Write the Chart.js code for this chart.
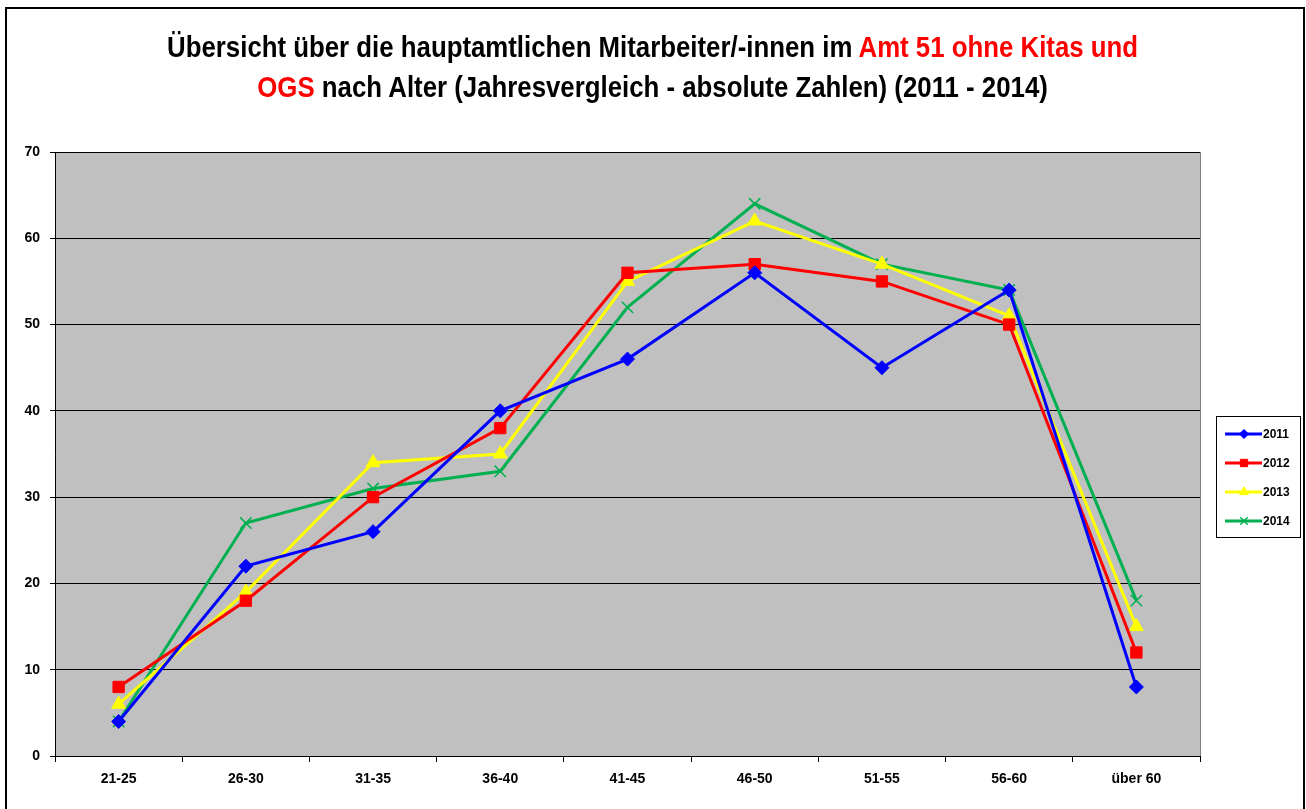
<!DOCTYPE html>
<html>
<head>
<meta charset="utf-8">
<script src="https://cdn.jsdelivr.net/npm/chart.js@4/dist/chart.umd.min.js"></script>
<style>
    body { margin: 0; background: #fff; }
    #wrap { position: relative; width: 1306px; height: 809px; overflow: hidden; }
    #frame { position: absolute; left: 5px; top: 7px; width: 1300px; height: 820px; box-sizing: border-box; border: 2px solid #000; pointer-events: none; }
    #title {
        position: absolute; left: 0; top: 27px; width: 1306px; text-align: center;
        font-family: "Liberation Sans", Arial, sans-serif;
        font-weight: bold; font-size: 30px; line-height: 40px; color: #000;
        transform: scaleX(0.86); transform-origin: 650px 0;
    }
    #title .red { color: #ff0000; }
    canvas { position: absolute; left: 0; top: 0; }
</style>
</head>
<body>
<div id="wrap">
    <canvas id="chart" width="1306" height="809"></canvas>
    <div id="title">Übersicht über die hauptamtlichen Mitarbeiter/-innen im <span class="red">Amt 51 ohne Kitas und</span><br><span class="red">OGS</span> nach Alter (Jahresvergleich - absolute Zahlen) (2011 - 2014)</div>
    <div id="frame"></div>
</div>
<script>
const ageGroups = ['21-25', '26-30', '31-35', '36-40', '41-45', '46-50', '51-55', '56-60', 'über 60'];
const values2011 = [4, 22, 26, 40, 46, 56, 45, 54, 8];
const values2012 = [8, 18, 30, 38, 56, 57, 55, 50, 12];
const values2013 = [6, 19, 34, 35, 55, 62, 57, 51, 15];
const values2014 = [4, 27, 31, 33, 52, 64, 57, 54, 18];

// gray plot area like the Excel chart
const plotBackground = {
    id: 'plotBackground',
    beforeDraw(chart) {
        const { ctx, chartArea: a } = chart;
        ctx.save();
        ctx.fillStyle = '#c0c0c0';
        ctx.fillRect(a.left, a.top, a.right - a.left, a.bottom - a.top);
        ctx.strokeStyle = '#808080';
        ctx.lineWidth = 1;
        ctx.strokeRect(a.left + 0.5, a.top + 0.5, a.right - a.left, a.bottom - a.top);
        ctx.restore();
    }
};

// legend box on the right, line + marker per series
const boxLegend = {
    id: 'boxLegend',
    afterDraw(chart) {
        const ctx = chart.ctx;
        const x = 1216, y = 416, w = 84, h = 121;
        ctx.save();
        ctx.fillStyle = '#fff';
        ctx.fillRect(x, y, w, h);
        ctx.strokeStyle = '#000';
        ctx.lineWidth = 1;
        ctx.strokeRect(x + 0.5, y + 0.5, w, h);
        chart.data.datasets.forEach((ds, i) => {
            const cy = y + 18 + i * 29;
            ctx.strokeStyle = ds.borderColor;
            ctx.lineWidth = 3;
            ctx.beginPath();
            ctx.moveTo(x + 9, cy);
            ctx.lineTo(x + 46, cy);
            ctx.stroke();
            ctx.fillStyle = ds.pointBackgroundColor;
            ctx.strokeStyle = ds.pointBorderColor;
            ctx.lineWidth = ds.pointBorderWidth;
            Chart.helpers.drawPoint(ctx, {
                pointStyle: ds.pointStyle,
                radius: ds.pointRadius * 0.65,
                borderWidth: ds.pointBorderWidth,
                rotation: 0
            }, x + 28, cy);
            ctx.fillStyle = '#000';
            ctx.font = 'bold 12px "Liberation Sans", Arial, sans-serif';
            ctx.textBaseline = 'middle';
            ctx.fillText(ds.label, x + 47, cy + 1);
        });
        ctx.restore();
    }
};

function series(label, data, color, style, radius) {
    return {
        label: label,
        data: data,
        borderColor: color,
        backgroundColor: color,
        pointBackgroundColor: color,
        pointBorderColor: color,
        pointStyle: style,
        pointRadius: radius,
        pointBorderWidth: style === 'crossRot' ? 1.5 : 1,
        borderWidth: 3,
        tension: 0
    };
}

const tickFont = { family: '"Liberation Sans", Arial, sans-serif', weight: 'bold', size: 14 };

new Chart(document.getElementById('chart'), {
    type: 'line',
    data: {
        labels: ageGroups,
        datasets: [
            series('2011', values2011, '#0000ff', 'rectRot', 7),
            series('2012', values2012, '#ff0000', 'rect', 8),
            series('2013', values2013, '#ffff00', 'triangle', 8),
            series('2014', values2014, '#00b050', 'crossRot', 8)
        ]
    },
    options: {
        responsive: false,
        animation: false,
        layout: { padding: { top: 152, right: 106, left: 0, bottom: 13 } },
        plugins: {
            legend: { display: false },
            title: { display: false },
            tooltip: { enabled: false }
        },
        scales: {
            x: {
                offset: true,
                grid: { offset: true, drawOnChartArea: false, drawTicks: true, tickLength: 6, color: '#000' },
                border: { color: '#000', width: 1 },
                ticks: { color: '#000', padding: 9, font: tickFont },
                afterFit(scale) { scale.height = 40; }
            },
            y: {
                min: 0,
                max: 70,
                ticks: { stepSize: 10, color: '#000', padding: 10, font: tickFont },
                grid: { color: '#000', lineWidth: 1, tickLength: 5 },
                border: { color: '#000', width: 1 },
                afterFit(scale) { scale.width = 55; }
            }
        }
    },
    plugins: [plotBackground, boxLegend]
});
</script>
</body>
</html>
